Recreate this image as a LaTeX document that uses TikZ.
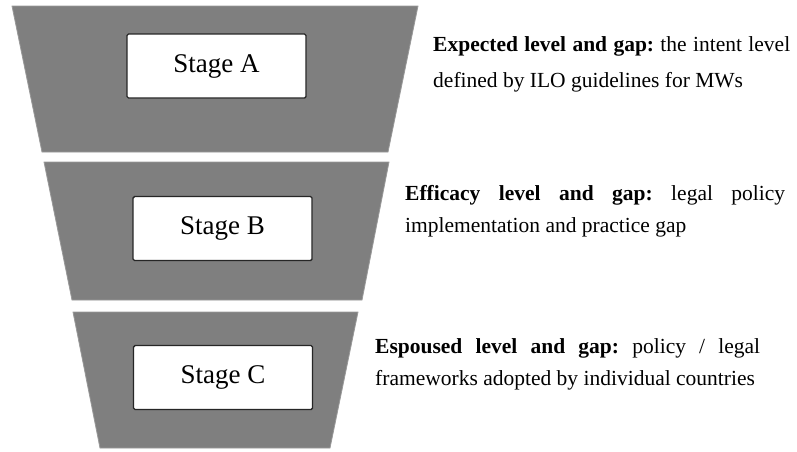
\documentclass[tikz,border=0pt]{standalone}
\usepackage{fontspec}
\setmainfont{Liberation Serif}
\definecolor{funnelgray}{RGB}{127,127,127}
\frenchspacing

\begin{document}
\begin{tikzpicture}[x=1pt,y=-1pt,
  funnel/.style={fill=funnelgray,draw=funnelgray!80,line width=0.8pt},
  stagebox/.style={draw=black!85,line width=1.4pt,fill=white,rounded corners=1.5pt,
    minimum width=179pt,minimum height=64pt,inner sep=0pt,
    font=\fontsize{27}{30}\selectfont},
  gapnote/.style={anchor=north west,inner sep=0pt,align=justify,
    font=\fontsize{21.5}{32}\selectfont}]
\useasboundingbox (0,0) rectangle (797,451);
% funnel
\filldraw[funnel](12,6)--(418,6)--(388,152)--(42,152)--cycle;
\filldraw[funnel](44,162)--(389,162)--(362,300)--(72,300)--cycle;
\filldraw[funnel](73,312)--(358,312)--(330,448)--(100,448)--cycle;
% stages
\node[stagebox] (stageA) at (216.5,66) {Stage A};
\node[stagebox] (stageB) at (222.5,228.5) {Stage B};
\node[stagebox] (stageC) at (223,377.5) {Stage C};
% levels and gaps
\node[gapnote,text width=357pt,font=\fontsize{21.5}{36}\selectfont] (noteA) at (433,36)
  {\textbf{Expected level and gap:} the intent level\linebreak defined by ILO guidelines for MWs};
\node[gapnote,text width=380pt] (noteB) at (405,185.5)
  {\textbf{Efficacy level and gap:} legal policy\linebreak implementation and practice gap};
\node[gapnote,text width=385pt] (noteC) at (375,338.5)
  {\textbf{Espoused level and gap:} policy / legal\linebreak frameworks adopted by individual countries};
\end{tikzpicture}
\end{document}
